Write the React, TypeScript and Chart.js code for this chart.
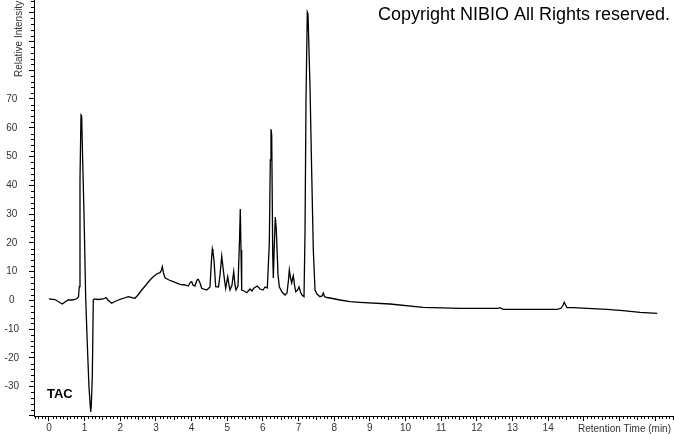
import React, { useEffect, useRef } from 'react';
import { Chart, registerables } from 'chart.js';

Chart.register(...registerables);

// Retention time (min)
const retentionTimes = [
  0, 0.168, 0.281, 0.373, 0.449, 0.533, 0.645, 0.729, 0.785, 0.827,
  0.85, 0.87, 0.898, 0.917, 0.945, 0.982, 1.029, 1.074, 1.122, 1.17,
  1.187, 1.215, 1.243, 1.271, 1.374, 1.523, 1.599, 1.655, 1.759, 1.851,
  1.944, 2.076, 2.224, 2.328, 2.412, 2.496, 2.6, 2.721, 2.833, 2.917,
  3.021, 3.114, 3.156, 3.178, 3.212, 3.254, 3.366, 3.487, 3.674, 3.815,
  3.907, 3.969, 4.003, 4.039, 4.095, 4.151, 4.188, 4.236, 4.283, 4.424,
  4.516, 4.558, 4.581, 4.6, 4.628, 4.676, 4.755, 4.797, 4.845, 4.889,
  4.923, 4.957, 5.013, 5.049, 5.077, 5.133, 5.181, 5.217, 5.245, 5.301,
  5.344, 5.366, 5.386, 5.405, 5.47, 5.546, 5.638, 5.694, 5.75, 5.843,
  5.919, 6.003, 6.059, 6.124, 6.18, 6.208, 6.227, 6.247, 6.275, 6.292,
  6.32, 6.348, 6.376, 6.424, 6.46, 6.536, 6.62, 6.676, 6.718, 6.741,
  6.774, 6.808, 6.83, 6.853, 6.886, 6.92, 6.971, 7.013, 7.055, 7.097,
  7.153, 7.181, 7.209, 7.245, 7.265, 7.321, 7.369, 7.414, 7.461, 7.517,
  7.602, 7.658, 7.694, 7.728, 7.79, 7.882, 8.163, 8.443, 8.724, 9.565,
  10.491, 11.529, 12.595, 12.651, 12.735, 13.492, 14.25, 14.36, 14.42, 14.45,
  14.49, 14.53, 14.7, 15.65, 16.1, 16.58, 17.06,
];

// Relative intensity
const intensities = [
  0.5, 0.3, -0.56, -1.25, -0.56, 0.14, 0.14, 0.31, 0.66, 1.18,
  4.76, 41.85, 64.44, 64.1, 48.8, 30.38, 1.18, -14.8, -30.1, -38.8,
  -36.4, -26.6, 0.14, 0.49, 0.31, 0.49, 1.0, 0.14, -1.0, -0.38,
  0.14, 0.66, 1.29, 1.0, 0.73, 1.88, 3.61, 5.35, 7.09, 8.13,
  9.18, 9.63, 10.57, 11.7, 9.52, 7.89, 7.09, 6.5, 5.6, 5.35,
  5.0, 6.4, 6.5, 5.35, 5.0, 7.09, 7.33, 6.05, 4.2, 3.61,
  4.66, 14.0, 17.9, 16.8, 14.0, 4.76, 4.66, 8.83, 15.4, 10.6,
  7.09, 4.2, 8.24, 5.35, 3.61, 5.35, 9.98, 5.35, 3.61, 5.0,
  21.0, 31.8, 17.5, 3.61, 3.27, 2.68, 3.96, 3.27, 4.31, 5.0,
  3.96, 3.61, 4.66, 4.31, 19.85, 48.8, 59.5, 57.5, 16.5, 7.79,
  19.3, 29.0, 24.5, 8.83, 4.76, 2.92, 1.88, 2.57, 7.09, 10.57,
  7.79, 6.05, 7.44, 8.59, 5.35, 3.02, 3.61, 4.66, 2.92, 1.88,
  1.29, 23.4, 69.7, 100.2, 99.5, 74.3, 44.3, 17.5, 3.61, 2.22,
  1.29, 1.53, 2.57, 1.36, 1.0, 0.83, 0.14, -0.45, -0.66, -1.25,
  -2.4, -2.75, -2.75, -2.54, -3.09, -3.09, -3.09, -2.75, -1.6, -0.66,
  -1.6, -2.54, -2.54, -3.09, -3.58, -4.14, -4.48,
];

const xTickLabels = [0, 1, 2, 3, 4, 5, 6, 7, 8, 9, 10, 11, 12, 13, 14];
const yTickLabels = [-30, -20, -10, 0, 10, 20, 30, 40, 50, 60, 70];

const X_MIN = -0.42;
const X_MAX = 17.53;
const Y_MIN = -40.18;
const Y_MAX = 104.4;

const FONT = "'Liberation Sans', Arial, sans-serif";

const decorPlugin = {
  id: 'decor',
  afterDraw(chart: any) {
    const ctx = chart.ctx;
    const xs = chart.scales.x;
    const ys = chart.scales.y;
    const area = chart.chartArea;
    ctx.save();
    ctx.strokeStyle = '#000';
    ctx.lineWidth = 1;
    // minor y ticks
    for (let v = -40; v <= 104; v += 2) {
      if (v % 10 === 0) continue;
      const py = Math.round(ys.getPixelForValue(v)) + 0.5;
      ctx.beginPath();
      ctx.moveTo(area.left - 3, py);
      ctx.lineTo(area.left, py);
      ctx.stroke();
    }
    // minor x ticks
    for (let i = -4; i <= 175; i++) {
      if (i % 10 === 0) continue;
      const v = i / 10;
      if (v < X_MIN || v > X_MAX) continue;
      const px = Math.round(xs.getPixelForValue(v)) + 0.5;
      ctx.beginPath();
      ctx.moveTo(px, area.bottom);
      ctx.lineTo(px, area.bottom + (i % 5 === 0 ? 4 : 3));
      ctx.stroke();
    }
    // texts
    ctx.fillStyle = '#000';
    ctx.font = `18px ${FONT}`;
    ctx.textAlign = 'left';
    ctx.textBaseline = 'alphabetic';
    ctx.fillText('Copyright NIBIO All Rights reserved.', 378, 19.5);

    ctx.font = `bold 13px ${FONT}`;
    ctx.fillText('TAC', 47, 398);

    ctx.fillStyle = '#333';
    ctx.font = `10px ${FONT}`;
    ctx.fillText('Retention Time (min)', 578, 432);

    ctx.translate(22, 77);
    ctx.rotate(-Math.PI / 2);
    ctx.fillText('Relative Intensity', 0, 0);
    ctx.restore();
  },
};

export default function App() {
  const canvasRef = useRef<HTMLCanvasElement | null>(null);

  useEffect(() => {
    document.body.style.margin = '0';
    const canvas = canvasRef.current;
    if (!canvas) return;
    const points = retentionTimes.map((t, i) => ({ x: t, y: intensities[i] }));
    const chart = new Chart(canvas, {
      type: 'line',
      data: {
        datasets: [
          {
            data: points,
            borderColor: '#000',
            borderWidth: 1.3,
            pointRadius: 0,
            tension: 0,
            fill: false,
          },
        ],
      },
      options: {
        animation: false,
        responsive: false,
        maintainAspectRatio: false,
        layout: { padding: 0 },
        plugins: {
          legend: { display: false },
          tooltip: { enabled: false },
          title: { display: false },
        },
        scales: {
          x: {
            type: 'linear',
            min: X_MIN,
            max: X_MAX,
            afterFit: (s: any) => {
              s.height = 18;
              s.paddingLeft = 0;
              s.paddingRight = 0;
              s.paddingTop = 0;
              s.paddingBottom = 0;
            },
            grid: { drawOnChartArea: false, drawTicks: true, tickLength: 5, color: '#000' },
            border: { display: true, color: '#000', width: 1 },
            ticks: {
              stepSize: 1,
              includeBounds: false,
              autoSkip: false,
              maxRotation: 0,
              padding: 1,
              color: '#333',
              font: { family: FONT, size: 10 },
              callback: (v: any) => (xTickLabels.includes(Number(v)) ? String(v) : ''),
            },
          },
          y: {
            type: 'linear',
            min: Y_MIN,
            max: Y_MAX,
            afterFit: (s: any) => {
              s.width = 34;
              s.paddingLeft = 0;
              s.paddingRight = 0;
              s.paddingTop = 0;
              s.paddingBottom = 0;
            },
            grid: { drawOnChartArea: false, drawTicks: true, tickLength: 5, color: '#000' },
            border: { display: true, color: '#000', width: 1 },
            ticks: {
              stepSize: 10,
              includeBounds: false,
              autoSkip: false,
              crossAlign: 'center',
              padding: 10,
              color: '#333',
              font: { family: FONT, size: 10 },
              callback: (v: any) => (yTickLabels.includes(Number(v)) ? String(v) : ''),
            },
          },
        },
      },
      plugins: [decorPlugin],
    });
    return () => chart.destroy();
  }, []);

  return (
    <div style={{ position: 'absolute', left: 0, top: 0, width: 674, height: 434, background: '#fff' }}>
      <canvas ref={canvasRef} width={674} height={434} style={{ display: 'block' }} />
    </div>
  );
}
